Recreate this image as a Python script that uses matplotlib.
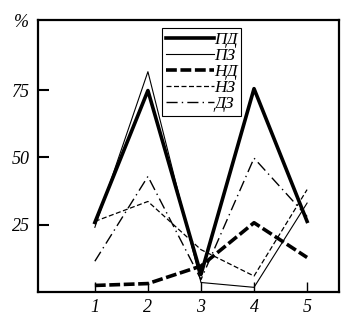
import matplotlib.pyplot as plt

x = [1, 2, 3, 4, 5]
pd_vals = [25.8, 74.8, 6.5, 75.5, 26.2]
pz_vals = [24.0, 81.8, 3.5, 1.7, 33.0]
nd_vals = [2.4, 3.1, 9.6, 25.7, 12.8]
nz_vals = [26.2, 33.6, 15.7, 5.9, 38.0]
dz_vals = [11.4, 42.9, 4.6, 49.7, 28.0]
labels = ['ПД', 'ПЗ', 'НД', 'НЗ', 'ДЗ']
y_ticks = [25, 50, 75]


def main():
    plt.rcParams['font.family'] = ['Liberation Serif', 'DejaVu Serif']
    plt.rcParams['font.style'] = 'italic'

    fig = plt.figure(figsize=(3.56, 3.28), dpi=100)
    ax = fig.add_axes([0.107, 0.110, 0.845, 0.829])

    ax.plot(x, pd_vals, color='black', lw=2.6, label=labels[0])
    ax.plot(x, pz_vals, color='black', lw=0.8, label=labels[1])
    ax.plot(x, nd_vals, color='black', lw=2.6, ls=(0, (3, 1)), label=labels[2])
    ax.plot(x, nz_vals, color='black', lw=0.9, ls=(0, (4, 2)), label=labels[3])
    ax.plot(x, dz_vals, color='black', lw=1.0, ls=(0, (8, 3, 1, 3)), label=labels[4])

    ax.set_xlim(-0.07, 5.6)
    ax.set_ylim(0, 101)
    ax.set_xticks(x)
    ax.set_yticks(y_ticks)
    ax.tick_params(axis='x', direction='in', length=7, width=1, labelsize=13, pad=5)
    ax.tick_params(axis='y', direction='in', length=8, width=1.5, labelsize=13, pad=6)
    for s in ax.spines.values():
        s.set_linewidth(1.6)

    fig.text(0.06, 0.93, '%', fontsize=13, ha='center', va='center')

    leg = ax.legend(loc='upper left', bbox_to_anchor=(0.413, 0.97), fontsize=12.5,
                    handlelength=2.8, handletextpad=0.0, borderpad=0.2,
                    labelspacing=0.0, borderaxespad=0, fancybox=False,
                    framealpha=1)
    leg.get_frame().set_edgecolor('black')
    leg.get_frame().set_linewidth(0.8)

    fig.savefig('out.png', dpi=100)


if __name__ == '__main__':
    main()
